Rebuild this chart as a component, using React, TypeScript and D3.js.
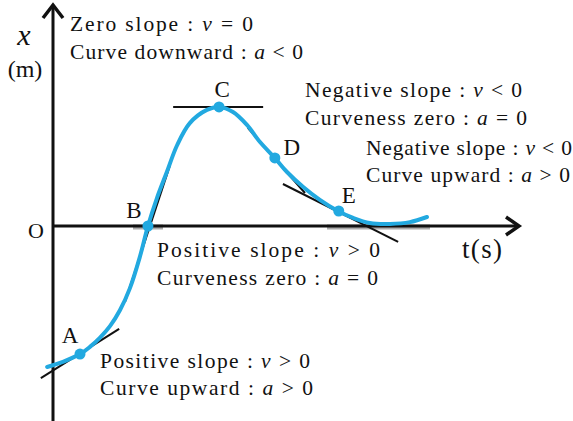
import React from "react";
import * as d3 from "d3";

// curve samples: time t (s) and position x (m)
const curveT = [-0.13, 0.22, 0.6, 0.82, 1.04, 1.27, 1.49, 1.71, 1.93, 2.11, 2.31, 2.53, 2.76, 3.04, 3.42, 3.69, 4.0, 4.31, 4.6, 4.93, 5.2, 5.56, 5.93, 6.33, 6.67, 7.04, 7.49, 7.93, 8.31];
const curveX = [-4.7, -4.53, -4.27, -4.03, -3.73, -3.33, -2.8, -2.07, -1.03, 0, 0.93, 1.8, 2.7, 3.43, 3.87, 3.97, 3.8, 3.37, 2.8, 2.27, 1.8, 1.3, 0.87, 0.5, 0.27, 0.1, 0.07, 0.13, 0.3];

// labelled points
const pointNames = ["A", "B", "C", "D", "E"];
const pointT = [0.6, 2.11, 3.69, 4.93, 6.35];
const pointX = [-4.27, 0, 3.97, 2.27, 0.5];

// tangent segments (start/end)
const tanT1 = [-0.27, 1.6, 2.67, 4.33, 5.11];
const tanX1 = [-5.07, -2.53, 3.97, 3.27, 1.4];
const tanT2 = [1.47, 2.6, 4.67, 5.6, 7.67];
const tanX2 = [-3.43, 2.03, 3.97, 1.1, -0.53];

// annotation texts: [before, variable, after]
const noteLines = [
  ["Zero slope : ", "v", " = 0"],
  ["Curve downward : ", "a", " < 0"],
  ["Negative slope : ", "v", " < 0"],
  ["Curveness zero : ", "a", " = 0"],
  ["Negative slope : ", "v", " < 0"],
  ["Curve upward : ", "a", " > 0"],
  ["Positive slope : ", "v", " > 0"],
  ["Curveness zero : ", "a", " = 0"],
  ["Positive slope : ", "v", " > 0"],
  ["Curve upward : ", "a", " > 0"],
];
// layout: [x, baseline y, width]
const noteLayout = [
  [70, 31, 183], [70, 59, 233],
  [305, 97, 217], [305, 125, 222],
  [366, 155, 206], [366, 182, 204],
  [157, 257, 223], [157, 285, 221],
  [100, 368, 210], [100, 395, 213],
];

const W = 573;
const H = 421;
const X0 = 53; // y-axis
const Y0 = 226; // x-axis

const sx = d3.scaleLinear().domain([0, 10]).range([X0, X0 + 450]);
const sy = d3.scaleLinear().domain([0, 4]).range([Y0, Y0 - 120]);

const CURVE = "#22a9e0";
const FONT = "Liberation Serif";
const INK = "#111";

export default function App() {
  const pts: [number, number][] = curveT.map((t, i) => [t, curveX[i]]);
  const line = d3
    .line<[number, number]>()
    .x((d) => sx(d[0]))
    .y((d) => sy(d[1]))
    .curve(d3.curveCatmullRom.alpha(0.5));

  // label offsets relative to point
  const labelOff = [[-10, -11], [-14, -8], [3, -10], [17, -3], [10, -8]];

  return (
    <svg
      width={W}
      height={H}
      style={{ position: "fixed", left: 0, top: 0, background: "#fff" }}
    >
      {/* light gray highlight on axis */}
      <line x1={133} x2={163} y1={Y0 + 1} y2={Y0 + 1} stroke="#aaa" strokeWidth={5} />
      <line x1={327} x2={430} y1={Y0 + 1} y2={Y0 + 1} stroke="#aaa" strokeWidth={5} />
      {/* axes */}
      <line x1={X0} x2={X0} y1={H} y2={6} stroke={INK} strokeWidth={3} />
      <polyline points={`${X0 - 10},${18} ${X0},${5} ${X0 + 10},${18}`} fill="none" stroke={INK} strokeWidth={3.5} />
      <line x1={X0} x2={518} y1={Y0} y2={Y0} stroke={INK} strokeWidth={3} />
      <polyline points={`${506},${Y0 - 9} ${519},${Y0} ${506},${Y0 + 9}`} fill="none" stroke={INK} strokeWidth={3.5} />

      {/* tangents */}
      {tanT1.map((t, i) => (
        <line
          key={"tan" + i}
          x1={sx(t)}
          y1={sy(tanX1[i])}
          x2={sx(tanT2[i])}
          y2={sy(tanX2[i])}
          stroke={INK}
          strokeWidth={2}
        />
      ))}

      {/* curve */}
      <path d={line(pts) || ""} fill="none" stroke={CURVE} strokeWidth={4} strokeLinecap="round" />

      {/* points */}
      {pointT.map((t, i) => (
        <g key={"p" + i}>
          <circle cx={sx(t)} cy={sy(pointX[i])} r={5.5} fill={CURVE} />
          <text
            x={sx(t) + labelOff[i][0]}
            y={sy(pointX[i]) + labelOff[i][1]}
            textAnchor="middle"
            fontFamily={FONT}
            fontSize={23}
            fill={INK}
          >
            {pointNames[i]}
          </text>
        </g>
      ))}

      {/* axis labels */}
      <text x={24} y={45} textAnchor="middle" fontFamily={FONT} fontSize={30} fontStyle="italic" fill={INK}>x</text>
      <text x={25} y={77} textAnchor="middle" fontFamily={FONT} fontSize={24} fill={INK}>(m)</text>
      <text x={36} y={238} textAnchor="middle" fontFamily={FONT} fontSize={22} fill={INK}>O</text>
      <text x={462} y={258} fontFamily={FONT} fontSize={27} textLength={40} lengthAdjust="spacing" fill={INK}>t(s)</text>

      {/* annotations */}
      {noteLines.map((ln, i) => (
        <text
          key={"n" + i}
          x={noteLayout[i][0]}
          y={noteLayout[i][1]}
          fontFamily={FONT}
          fontSize={21.5}
          textLength={noteLayout[i][2]}
          lengthAdjust="spacing"
          style={{ whiteSpace: "pre" }}
          fill={INK}
        >
          <tspan>{ln[0]}</tspan>
          <tspan fontStyle="italic">{ln[1]}</tspan>
          <tspan>{ln[2]}</tspan>
        </text>
      ))}
    </svg>
  );
}
